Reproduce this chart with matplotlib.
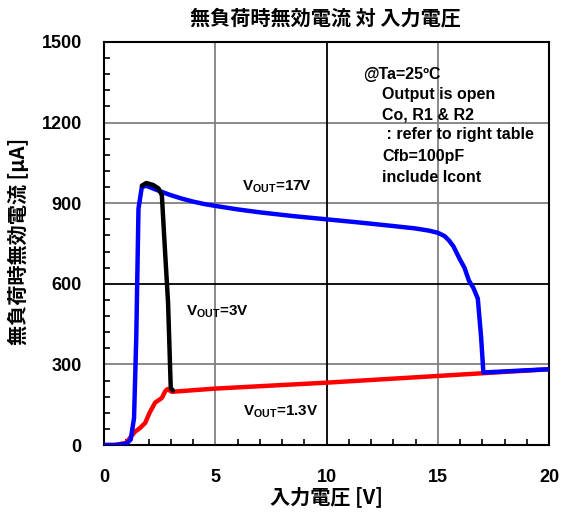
import matplotlib
matplotlib.use("Agg")
import matplotlib.pyplot as plt
from matplotlib.ticker import MultipleLocator

plt.rcParams['font.family'] = ['Liberation Sans', 'Noto Sans CJK JP', 'DejaVu Sans']
plt.rcParams['mathtext.default'] = 'regular'

# Data (input voltage [V], current [uA])
v17 = [0, 0.5, 1.0, 1.2, 1.35, 1.45, 1.55, 1.7, 1.9, 2.5, 3, 3.5, 4, 4.5, 5, 6, 7, 8.5, 10,
       11.5, 13, 14, 14.6, 15.0, 15.3, 15.5, 15.7, 16.0, 16.2, 16.4, 16.6, 16.8, 16.95, 17.05, 20]
i17 = [0, 0, 5, 20, 100, 400, 880, 960, 965, 945, 930, 917, 906, 897, 890, 877, 866, 852, 840,
       828, 815, 806, 798, 790, 778, 762, 740, 690, 660, 612, 585, 545, 400, 270, 282]

v3 = [1.7, 1.9, 2.2, 2.45, 2.6, 2.74, 2.88, 3.0, 3.1]
i3 = [965, 975, 968, 955, 930, 726, 528, 212, 203]

v13 = [0, 0.5, 1.0, 1.2, 1.4, 1.6, 1.85, 2.05, 2.3, 2.6, 2.75, 2.85, 3.05, 5, 10, 15, 20]
i13 = [0, 0, 8, 30, 50, 62, 82, 120, 158, 175, 200, 208, 198, 210, 232, 257, 282]

xticks = [0, 5, 10, 15, 20]
yticks = [0, 300, 600, 900, 1200, 1500]

title = '無負荷時無効電流 対 入力電圧'
xlabel = '入力電圧 [V]'
ylabel = '無負荷時無効電流 [µA]'
notes = ['@Ta=25ºC', 'Output is open', 'Co, R1 & R2', ' : refer to right table',
         'Cfb=100pF', 'include Icont']

fig = plt.figure(figsize=(5.62, 5.21), dpi=100)
ax = fig.add_axes([104/562, 1-445/521, 445/562, 403/521])

ax.set_xlim(0, 20)
ax.set_ylim(0, 1500)
ax.set_xticks(xticks)
ax.set_yticks(yticks)
ax.xaxis.set_minor_locator(MultipleLocator(1))
ax.yaxis.set_minor_locator(MultipleLocator(60))
ax.tick_params(which='both', direction='in', width=1.2)
ax.tick_params(which='major', length=0)
ax.tick_params(which='minor', length=4, top=False, right=False)
ax.tick_params(axis='y', which='major', pad=16)
ax.tick_params(axis='x', which='major', pad=17)
for lab in ax.get_xticklabels() + ax.get_yticklabels():
    lab.set_fontsize(13)
    lab.set_fontweight('bold')
for s in ax.spines.values():
    s.set_linewidth(1.5)

for x in [5, 15]:
    ax.axvline(x, color='#808080', lw=1.3, zorder=1)
for y in [300, 900, 1200]:
    ax.axhline(y, color='#808080', lw=1.3, zorder=1)
ax.axvline(10, color='black', lw=1.3, zorder=1)
ax.axhline(600, color='black', lw=1.3, zorder=1)

ax.plot(v13, i13, color='#ff0000', lw=3.2, zorder=3, solid_capstyle='round', solid_joinstyle='round')
ax.plot(v17, i17, color='#0000ff', lw=3.2, zorder=4, solid_capstyle='round', solid_joinstyle='round')
ax.plot(v3, i3, color='black', lw=3.2, zorder=5, solid_capstyle='round', solid_joinstyle='round')

ax.text(6.2, 960, r'V$_{OUT}$=17V', fontsize=11, fontweight='bold', va='center')
ax.text(3.7, 495, r'V$_{OUT}$=3V', fontsize=11, fontweight='bold', va='center')
ax.text(6.25, 122, r'V$_{OUT}$=1.3V', fontsize=11, fontweight='bold', va='center')

ys = [75, 95, 115, 135, 156, 177]
xs = [363, 382, 382, 382, 382, 382]
for t, xp, yp in zip(notes, xs, ys):
    fig.text(xp/562, 1-yp/521, t, fontsize=11.5, fontweight='bold', va='center', ha='left')

fig.text(325/562, 1-18/521, title, fontsize=14.5, fontweight='bold', ha='center', va='center',
         family=['Noto Sans CJK JP', 'DejaVu Sans'])
fig.text(326/562, 1-497/521, xlabel, fontsize=14.5, fontweight='bold', ha='center', va='center',
         family=['Noto Sans CJK JP', 'DejaVu Sans'])
fig.text(18/562, 1-241/521, ylabel, fontsize=14.5, fontweight='bold', ha='center', va='center',
         rotation=90, family=['Noto Sans CJK JP', 'DejaVu Sans'])

fig.savefig('out.png', dpi=100)
